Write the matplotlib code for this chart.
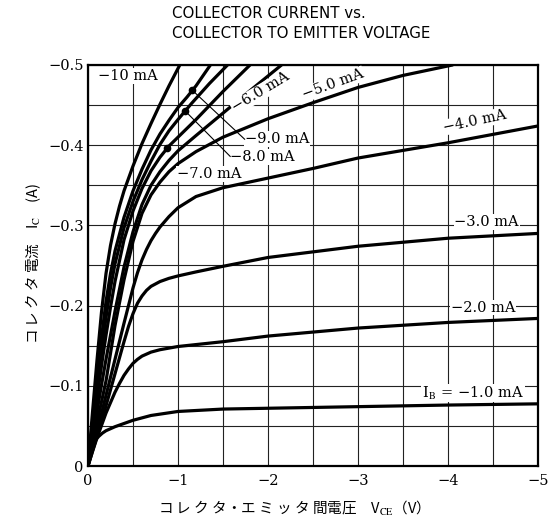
import numpy as np
import matplotlib
matplotlib.use("Agg")
import matplotlib.pyplot as plt

# ======================================================
# DATA  (magnitudes: |V_CE| in V, |I_C| in A)
# ======================================================

V_1MA = [0, 0.02, 0.05, 0.08, 0.12, 0.16, 0.2, 0.3, 0.4, 0.5, 0.7, 1.0, 1.5, 2.0, 3.0, 4.0, 5.0]
I_1MA = [0, 0.012, 0.025, 0.032, 0.037, 0.041, 0.044, 0.049, 0.053, 0.057, 0.063, 0.068, 0.071, 0.072, 0.074, 0.076, 0.0775]

V_2MA = [0, 0.05, 0.1, 0.2, 0.3, 0.35, 0.4, 0.45, 0.5, 0.55, 0.6, 0.7, 0.8, 1.0, 1.5, 2.0, 3.0, 4.0, 5.0]
I_2MA = [0, 0.018, 0.035, 0.066, 0.092, 0.103, 0.113, 0.121, 0.128, 0.133, 0.137, 0.142, 0.145, 0.149, 0.155, 0.162, 0.172, 0.179, 0.184]

V_3MA = [0, 0.1, 0.2, 0.3, 0.4, 0.45, 0.5, 0.55, 0.6, 0.65, 0.7, 0.8, 0.9, 1.0, 1.2, 1.5, 2.0, 3.0, 4.0, 5.0]
I_3MA = [0, 0.037, 0.075, 0.115, 0.155, 0.174, 0.190, 0.203, 0.212, 0.219, 0.224, 0.230, 0.234, 0.237, 0.242, 0.249, 0.260, 0.274, 0.284, 0.290]

V_4MA = [0, 0.1, 0.2, 0.3, 0.4, 0.5, 0.55, 0.6, 0.65, 0.7, 0.75, 0.8, 0.9, 1.0, 1.2, 1.5, 2.0, 2.5, 3.0, 4.0, 5.0]
I_4MA = [0, 0.043, 0.088, 0.133, 0.178, 0.222, 0.241, 0.257, 0.270, 0.281, 0.290, 0.298, 0.311, 0.322, 0.336, 0.347, 0.359, 0.371, 0.384, 0.403, 0.424]

V_5MA = [0, 0.05, 0.1, 0.15, 0.2, 0.3, 0.4, 0.5, 0.6, 0.7, 0.8, 0.9, 1.0, 1.2, 1.5, 2.0, 2.5, 3.0, 3.5, 4.05]
I_5MA = [0, 0.027, 0.054, 0.080, 0.106, 0.175, 0.232, 0.280, 0.315, 0.338, 0.354, 0.367, 0.377, 0.392, 0.410, 0.433, 0.453, 0.472, 0.487, 0.500]

V_6MA = [0, 0.05, 0.1, 0.15, 0.2, 0.3, 0.4, 0.5, 0.6, 0.7, 0.8, 0.9, 1.0, 1.2, 1.5, 1.8, 2.15]
I_6MA = [0, 0.034, 0.068, 0.101, 0.133, 0.193, 0.248, 0.292, 0.326, 0.350, 0.367, 0.381, 0.393, 0.412, 0.440, 0.468, 0.500]

V_7MA = [0, 0.05, 0.1, 0.15, 0.2, 0.25, 0.3, 0.4, 0.5, 0.6, 0.7, 0.8, 0.9, 1.0, 1.2, 1.5, 1.8]
I_7MA = [0, 0.042, 0.084, 0.125, 0.163, 0.198, 0.230, 0.282, 0.318, 0.346, 0.368, 0.385, 0.399, 0.410, 0.432, 0.467, 0.500]

V_8MA = [0, 0.05, 0.1, 0.15, 0.2, 0.25, 0.3, 0.4, 0.5, 0.6, 0.7, 0.8, 0.9, 1.0, 1.15, 1.35, 1.55]
I_8MA = [0, 0.048, 0.096, 0.142, 0.185, 0.222, 0.252, 0.297, 0.330, 0.357, 0.380, 0.401, 0.418, 0.432, 0.452, 0.477, 0.500]

V_9MA = [0, 0.05, 0.1, 0.15, 0.2, 0.25, 0.3, 0.4, 0.5, 0.6, 0.7, 0.8, 0.9, 1.0, 1.1, 1.2, 1.36]
I_9MA = [0, 0.055, 0.110, 0.160, 0.205, 0.240, 0.268, 0.310, 0.343, 0.370, 0.394, 0.414, 0.431, 0.447, 0.460, 0.474, 0.500]

V_10MA = [0, 0.05, 0.1, 0.15, 0.2, 0.25, 0.3, 0.35, 0.4, 0.5, 0.6, 0.7, 0.8, 0.9, 1.02]
I_10MA = [0, 0.067, 0.132, 0.192, 0.240, 0.275, 0.302, 0.324, 0.343, 0.374, 0.402, 0.427, 0.451, 0.474, 0.500]

CURVES = [(V_1MA, I_1MA), (V_2MA, I_2MA), (V_3MA, I_3MA), (V_4MA, I_4MA),
          (V_5MA, I_5MA), (V_6MA, I_6MA), (V_7MA, I_7MA), (V_8MA, I_8MA),
          (V_9MA, I_9MA), (V_10MA, I_10MA)]

# |V_CE| where the leader dots sit on the 9, 8 and 7 mA curves
DOT_V = [1.16, 1.08, 0.88]

X_TICKS = [0, -1, -2, -3, -4, -5]
X_TICK_LABELS = ["0", "−1", "−2", "−3", "−4", "−5"]
Y_TICKS = [0, -0.1, -0.2, -0.3, -0.4, -0.5]
Y_TICK_LABELS = ["0", "−0.1", "−0.2", "−0.3", "−0.4", "−0.5"]

# ======================================================
# FIGURE
# ======================================================

SERIF = ["DejaVu Serif"]
CJK = ["Noto Sans CJK JP", "DejaVu Sans"]
plt.rcParams["mathtext.fontset"] = "stix"

fig = plt.figure(figsize=(5.52, 5.24), dpi=100)
ax = fig.add_axes([88 / 552, 1 - 466 / 524, 450 / 552, 401 / 524])

for v, i in CURVES:
    ax.plot(-np.array(v), -np.array(i), color="black", lw=2.3,
            solid_capstyle="round", solid_joinstyle="round", zorder=3)

ax.set_xlim(0, -5)
ax.set_ylim(0, -0.5)
ax.set_xticks(X_TICKS)
ax.set_xticklabels(X_TICK_LABELS, family=SERIF, fontsize=10.5)
ax.set_yticks(Y_TICKS)
ax.set_yticklabels(Y_TICK_LABELS, family=SERIF, fontsize=10.5)
ax.set_xticks(np.arange(-0.5, -5, -1.0), minor=True)
ax.set_yticks(np.arange(-0.05, -0.5, -0.1), minor=True)
ax.tick_params(which="both", length=0)
ax.tick_params(axis="x", pad=6)
ax.tick_params(axis="y", pad=3)
ax.grid(which="both", color="#222222", lw=0.8)
ax.set_axisbelow(True)
for s in ax.spines.values():
    s.set_linewidth(1.6)

# ---------- curve labels ----------
box = dict(facecolor="white", edgecolor="none", pad=0.6)
lab = dict(family=SERIF, fontsize=10.5, color="black", zorder=4, bbox=box)

ax.text(-0.11, -0.486, "−10 mA", ha="left", va="center", **lab)
ax.text(-1.92, -0.466, "−6.0 mA", ha="center", va="center", rotation=31, **lab)
ax.text(-2.72, -0.476, "−5.0 mA", ha="center", va="center", rotation=20, **lab)
ax.text(-4.30, -0.430, "−4.0 mA", ha="center", va="center", rotation=12, **lab)
ax.text(-4.43, -0.304, "−3.0 mA", ha="center", va="center", **lab)
ax.text(-4.39, -0.1975, "−2.0 mA", ha="center", va="center", **lab)
ax.text(-4.28, -0.091, "I$_\\mathrm{B}$ = −1.0 mA", ha="center", va="center", **lab)
ax.text(-1.74, -0.4075, "−9.0 mA", ha="left", va="center", **lab)
ax.text(-1.58, -0.385, "−8.0 mA", ha="left", va="center", **lab)
ax.text(-0.99, -0.364, "−7.0 mA", ha="left", va="center", **lab)

# leader dots + lines
leaders = [(V_9MA, I_9MA, DOT_V[0], (1.74, 0.4075)),
           (V_8MA, I_8MA, DOT_V[1], (1.58, 0.386)),
           (V_7MA, I_7MA, DOT_V[2], None)]
for v, i, vd, end in leaders:
    idot = np.interp(vd, v, i)
    ax.plot(-vd, -idot, "o", color="black", ms=4.5, zorder=5)
    if end is not None:
        ax.plot([-vd, -end[0]], [-idot, -end[1]], color="black", lw=0.8, zorder=4)

# ---------- titles / axis labels ----------
fig.text(172 / 552, 1 - 6 / 524, "COLLECTOR CURRENT vs.\nCOLLECTOR TO EMITTER VOLTAGE",
         ha="left", va="top", fontsize=10.8, linespacing=1.4, family="DejaVu Sans")
fig.text(290 / 552, 1 - 508 / 524, "コ レ ク タ・エ ミ ッ タ 間電圧　V$_\\mathrm{CE}$（V）",
         ha="center", va="center", fontsize=10.5, family=CJK)
fig.text(33 / 552, 1 - 263 / 524, "コ レ ク タ 電流　I$_\\mathrm{C}$　(A)",
         ha="center", va="center", rotation=90, fontsize=10.5, family=CJK)

fig.savefig("out.png", dpi=100)
